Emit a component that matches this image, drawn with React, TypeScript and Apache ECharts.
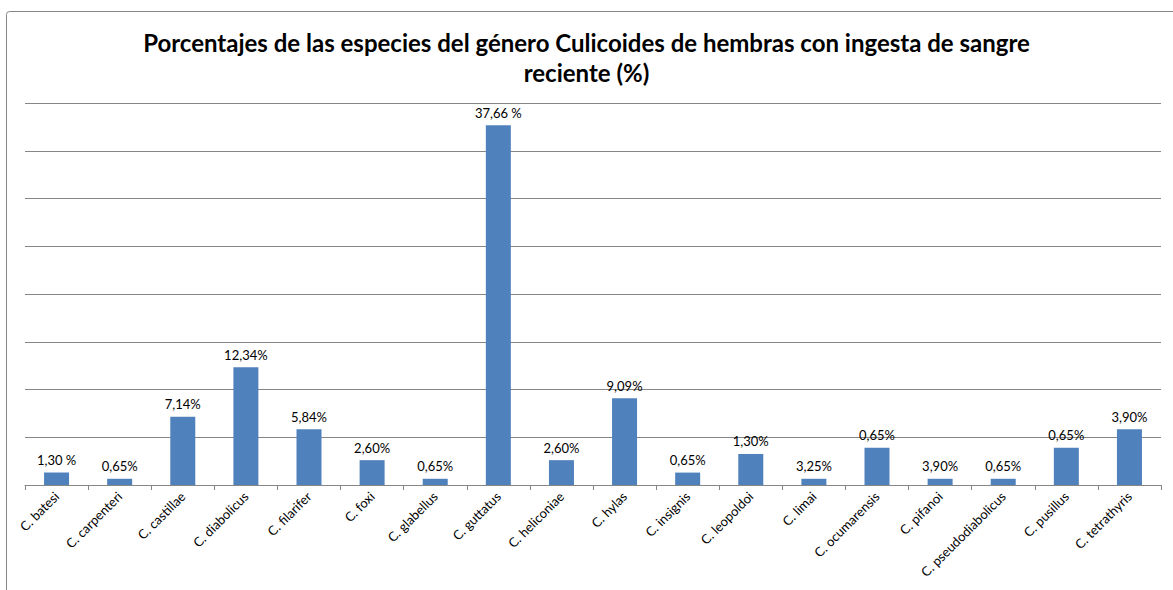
import React, { useEffect, useRef } from "react";
import * as echarts from "echarts";

const titleText = "Porcentajes de las especies del género Culicoides de hembras con ingesta de sangre\nreciente (%)";
const categories = [
  "C. batesi", "C. carpenteri", "C. castillae", "C. diabolicus", "C. filarifer", "C. foxi",
  "C. glabellus", "C. guttatus", "C. heliconiae", "C. hylas", "C. insignis", "C. leopoldoi",
  "C. limai", "C. ocumarensis", "C. pifanoi", "C. pseudodiabolicus", "C. pusillus", "C. tetrathyris",
];
const values = [1.3, 0.65, 7.14, 12.34, 5.84, 2.6, 0.65, 37.66, 2.6, 9.09, 1.3, 3.25, 0.65, 3.9, 0.65, 0.65, 3.9, 5.84];
const labels = [
  "1,30 %", "0,65%", "7,14%", "12,34%", "5,84%", "2,60%", "0,65%", "37,66 %", "2,60%",
  "9,09%", "0,65%", "1,30%", "3,25%", "0,65%", "3,90%", "0,65%", "0,65%", "3,90%",
];
const yTicks = { min: 0, max: 40, interval: 5 };

export default function App() {
  const ref = useRef<HTMLDivElement>(null);
  useEffect(() => {
    if (!ref.current) return;
    const chart = echarts.init(ref.current, null, { renderer: "svg" });
    chart.setOption({
      animation: false,
      backgroundColor: "#ffffff",
      textStyle: { fontFamily: "Lato" },
      title: {
        text: titleText,
        left: "center",
        top: 22,
        textStyle: { fontFamily: "Lato", fontWeight: "bold", fontSize: 24, color: "#000000", lineHeight: 30 },
      },
      graphic: [
        {
          type: "rect",
          shape: { x: 6.5, y: 11.5, width: 1300, height: 800, r: 3 },
          style: { fill: "none", stroke: "#868686", lineWidth: 1 },
          silent: true,
        },
      ],
      grid: { left: 25, right: 12, top: 103, bottom: 105, containLabel: false },
      xAxis: {
        type: "category",
        data: categories,
        axisLine: { lineStyle: { color: "#868686", width: 1 } },
        axisTick: { show: true, length: 5, lineStyle: { color: "#868686" } },
        axisLabel: { interval: 0, rotate: 45, fontSize: 13, color: "#000000", margin: 9, fontFamily: "Lato" },
      },
      yAxis: {
        type: "value",
        min: yTicks.min,
        max: yTicks.max,
        interval: yTicks.interval,
        axisLabel: { show: false },
        axisLine: { show: false },
        axisTick: { show: false },
        splitLine: { lineStyle: { color: "#868686", width: 1 } },
      },
      series: [
        {
          type: "bar",
          data: values,
          barWidth: 25,
          itemStyle: { color: "#4F81BD" },
          label: {
            show: true,
            position: "top",
            distance: 6,
            fontSize: 13,
            color: "#000000",
            fontFamily: "Lato",
            formatter: (p: any) => labels[p.dataIndex],
          },
        },
      ],
    });
    return () => chart.dispose();
  }, []);
  return <div ref={ref} style={{ position: "fixed", left: 0, top: 0, width: 1173, height: 590 }} />;
}
